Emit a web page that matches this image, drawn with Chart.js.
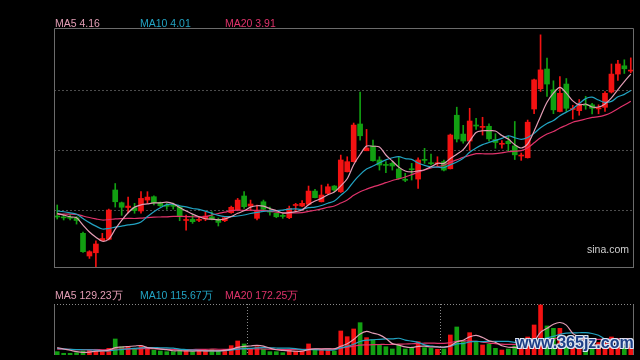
<!DOCTYPE html>
<html>
<head>
<meta charset="utf-8">
<script src="https://cdn.jsdelivr.net/npm/chart.js@4.4.1/dist/chart.umd.min.js"></script>
<style>
    body { margin: 0; background: #000; width: 640px; height: 360px; overflow: hidden; position: relative; font-family: "Liberation Sans", Arial, sans-serif; }
    canvas { position: absolute; left: 0; top: 0; }
    .legend { position: absolute; font-size: 10.5px; line-height: 12px; white-space: nowrap; }
    .sina { position: absolute; left: 587px; top: 243px; font-size: 10.5px; color: #cfcfcf; }
    .mark { position: absolute; left: 516px; top: 334px; font: bold 16px "Liberation Sans", Arial, sans-serif; color: #1d3f86; white-space: nowrap;
            text-shadow: -1px -1px 0 #dde6f2, 1px -1px 0 #dde6f2, -1px 1px 0 #dde6f2, 1px 1px 0 #dde6f2, 0 1px 0 #dde6f2, 1px 0 0 #dde6f2; }
</style>
</head>
<body>
<canvas id="price-chart" width="640" height="360"></canvas>
<canvas id="volume-chart" width="640" height="360"></canvas>

<div class="legend" style="left:55px;top:17px;color:#e39db5">MA5 4.16</div>
<div class="legend" style="left:140px;top:17px;color:#22a3c2">MA10 4.01</div>
<div class="legend" style="left:225px;top:17px;color:#e0336b">MA20 3.91</div>
<div class="legend" style="left:55px;top:289px;color:#e39db5">MA5 129.23万</div>
<div class="legend" style="left:140px;top:289px;color:#22a3c2">MA10 115.67万</div>
<div class="legend" style="left:225px;top:289px;color:#e0336b">MA20 172.25万</div>
<div class="sina">sina.com</div>
<div class="mark">www.365jz.com</div>

<script>
// daily candles, oldest first
const opens = [2.946, 2.939, 2.937, 2.936, 2.806, 2.617, 2.644, 2.746, 2.756, 3.167,
    3.061, 3.021, 3.019, 2.992, 3.083, 3.111, 3.061, 3.035, 3.035, 3.028,
    2.913, 2.922, 2.914, 2.925, 2.944, 2.922, 2.911, 2.978, 3.000, 3.117,
    3.033, 2.931, 3.069, 2.989, 2.973, 2.953, 2.936, 3.038, 3.033, 3.048,
    3.158, 3.069, 3.139, 3.200, 3.152, 3.319, 3.403, 3.717, 3.494, 3.533,
    3.417, 3.378, 3.389, 3.342, 3.253, 3.342, 3.258, 3.419, 3.392, 3.386,
    3.403, 3.344, 3.790, 3.633, 3.575, 3.704, 3.689, 3.698, 3.588, 3.548,
    3.573, 3.535, 3.450, 3.436, 3.842, 4.010, 4.175, 4.002, 3.821, 4.050,
    3.838, 3.828, 3.875, 3.877, 3.843, 3.856, 3.983, 4.133, 4.202, 4.158];
const highs = [3.042, 2.958, 2.958, 2.946, 2.817, 2.661, 2.744, 2.806, 3.008, 3.221,
    3.067, 3.108, 3.056, 3.153, 3.153, 3.119, 3.067, 3.056, 3.058, 3.033,
    2.958, 2.958, 2.944, 2.986, 2.986, 2.933, 2.944, 3.033, 3.097, 3.153,
    3.083, 3.042, 3.083, 3.025, 2.975, 2.967, 3.033, 3.056, 3.078, 3.200,
    3.172, 3.208, 3.217, 3.204, 3.458, 3.444, 3.725, 3.983, 3.672, 3.583,
    3.444, 3.403, 3.403, 3.439, 3.306, 3.389, 3.436, 3.514, 3.467, 3.444,
    3.417, 3.633, 3.857, 3.706, 3.848, 3.765, 3.773, 3.719, 3.636, 3.578,
    3.614, 3.738, 3.475, 3.750, 4.092, 4.460, 4.267, 4.077, 4.113, 4.096,
    3.873, 3.921, 3.948, 3.890, 3.877, 3.988, 4.217, 4.248, 4.252, 4.268];
const lows = [2.925, 2.917, 2.917, 2.883, 2.646, 2.597, 2.522, 2.744, 2.750, 3.025,
    2.956, 2.975, 2.973, 2.973, 3.056, 3.042, 3.029, 3.006, 3.008, 2.911,
    2.833, 2.889, 2.903, 2.911, 2.917, 2.867, 2.903, 2.973, 2.994, 3.014,
    2.996, 2.917, 3.000, 2.958, 2.936, 2.931, 2.928, 2.994, 3.029, 3.042,
    3.100, 3.067, 3.133, 3.152, 3.146, 3.317, 3.400, 3.583, 3.494, 3.408,
    3.333, 3.311, 3.333, 3.258, 3.236, 3.250, 3.181, 3.389, 3.375, 3.361,
    3.325, 3.342, 3.567, 3.557, 3.498, 3.672, 3.625, 3.573, 3.515, 3.515,
    3.489, 3.421, 3.414, 3.433, 3.804, 3.988, 3.946, 3.803, 3.817, 3.821,
    3.758, 3.790, 3.840, 3.802, 3.802, 3.821, 3.975, 4.081, 4.138, 4.144];
const closes = [2.942, 2.935, 2.932, 2.913, 2.653, 2.653, 2.717, 2.763, 3.000, 3.069,
    3.023, 3.033, 2.996, 3.097, 3.108, 3.061, 3.036, 3.031, 3.031, 2.944,
    2.921, 2.903, 2.919, 2.950, 2.925, 2.897, 2.936, 3.023, 3.083, 3.028,
    3.050, 2.994, 3.006, 2.983, 2.944, 2.947, 3.014, 3.043, 3.056, 3.158,
    3.103, 3.125, 3.194, 3.167, 3.417, 3.403, 3.708, 3.619, 3.517, 3.411,
    3.375, 3.372, 3.367, 3.264, 3.248, 3.336, 3.417, 3.414, 3.386, 3.392,
    3.333, 3.625, 3.592, 3.575, 3.742, 3.700, 3.694, 3.593, 3.563, 3.553,
    3.553, 3.460, 3.456, 3.732, 4.085, 4.168, 4.050, 3.835, 3.973, 3.848,
    3.842, 3.883, 3.871, 3.848, 3.848, 3.973, 4.133, 4.217, 4.177, 4.164];
// volume in 万 (10k shares)
const volumes = [35, 18, 18, 24, 42, 52, 60, 35, 70, 168,
    87, 87, 60, 95, 60, 52, 42, 35, 35, 60,
    42, 35, 42, 42, 60, 42, 52, 98, 147, 116,
    60, 87, 60, 35, 35, 24, 60, 42, 42, 116,
    60, 52, 52, 42, 252, 192, 273, 339, 182, 158,
    105, 87, 63, 105, 63, 77, 140, 77, 70, 60,
    63, 210, 294, 147, 234, 140, 105, 116, 70, 52,
    63, 95, 63, 189, 315, 525, 305, 280, 280, 175,
    95, 105, 84, 95, 131, 126, 189, 137, 95, 100];

// sessions before the visible window (only feed the moving averages)
const earlierCloses = [2.90, 2.92, 2.95, 2.93, 2.91, 2.94, 2.96, 2.93, 2.95, 2.97,
    3.00, 3.02, 3.03, 3.01, 2.995, 3.01, 3.00, 2.96, 2.953];
const earlierVolumes = [50, 62, 48, 70, 55, 45, 60, 58, 52, 60,
    55, 65, 50, 60, 60, 95, 80, 100, 80];

const priceGrid = [3.0, 3.5, 4.0];
const priceMin = 2.517, priceMax = 4.517;
const volumeMax = 535;
const volumeDividers = [30, 60];

const UP = '#f31212', DOWN = '#12a012';
const MA_COLORS = { ma5: '#e39db5', ma10: '#22a3c2', ma20: '#e0336b' };
const FRAME = '#6b6b6b';

const days = closes.map((_, i) => 'd' + (i + 1));
const candleColors = closes.map((c, i) => c >= opens[i] ? UP : DOWN);

function movingAverage(values, earlier, n) {
    const all = earlier.concat(values);
    return values.map((_, i) => {
        const end = earlier.length + i + 1;
        return all.slice(end - n, end).reduce((a, b) => a + b, 0) / n;
    });
}

const framePlugin = {
    id: 'frame',
    afterDraw(chart, args, opts) {
        const { ctx, chartArea: a } = chart;
        const l = Math.round(a.left) + 0.5, r = Math.round(a.right) - 0.5;
        const t = Math.round(a.top) + 0.5, b = Math.round(a.bottom) - 0.5;
        ctx.save();
        ctx.strokeStyle = opts.color;
        ctx.lineWidth = 1;
        ctx.beginPath();
        if (opts.sides.includes('t')) { ctx.moveTo(l, t); ctx.lineTo(r, t); }
        if (opts.sides.includes('b')) { ctx.moveTo(l, b); ctx.lineTo(r, b); }
        if (opts.sides.includes('l')) { ctx.moveTo(l, t); ctx.lineTo(l, b + 0.5); }
        if (opts.sides.includes('r')) { ctx.moveTo(r, t); ctx.lineTo(r, b + 0.5); }
        ctx.stroke();
        ctx.restore();
    }
};

function maLine(data, color) {
    return { type: 'line', data, borderColor: color, borderWidth: 1.2, pointRadius: 0, tension: 0.3, order: 0 };
}

const hiddenX = {
    offset: true,
    grid: { display: false, drawTicks: false },
    border: { display: false },
    ticks: { display: false }
};

new Chart(document.getElementById('price-chart'), {
    type: 'bar',
    data: {
        labels: days,
        datasets: [
            maLine(movingAverage(closes, earlierCloses, 5), MA_COLORS.ma5),
            maLine(movingAverage(closes, earlierCloses, 10), MA_COLORS.ma10),
            maLine(movingAverage(closes, earlierCloses, 20), MA_COLORS.ma20),
            {
                data: closes.map((c, i) => [opens[i], c]),
                backgroundColor: candleColors,
                barThickness: 5, minBarLength: 1, grouped: false, order: 1
            },
            {
                data: closes.map((c, i) => [lows[i], highs[i]]),
                backgroundColor: candleColors,
                barThickness: 1, grouped: false, order: 2
            }
        ]
    },
    options: {
        responsive: false,
        animation: false,
        devicePixelRatio: 1,
        layout: { padding: { left: 54, top: 28, right: 6, bottom: 92 } },
        plugins: {
            legend: { display: false },
            tooltip: { enabled: false },
            frame: { color: FRAME, sides: 'tblr' }
        },
        scales: {
            x: hiddenX,
            y: {
                min: priceMin, max: priceMax,
                afterBuildTicks: s => { s.ticks = priceGrid.map(v => ({ value: v })); },
                grid: { color: '#4d4d4d', drawTicks: false },
                border: { display: false, dash: [2, 2] },
                ticks: { display: false }
            }
        }
    },
    plugins: [framePlugin]
});

new Chart(document.getElementById('volume-chart'), {
    type: 'bar',
    data: {
        labels: days,
        datasets: [
            maLine(movingAverage(volumes, earlierVolumes, 5), MA_COLORS.ma5),
            maLine(movingAverage(volumes, earlierVolumes, 10), MA_COLORS.ma10),
            maLine(movingAverage(volumes, earlierVolumes, 20), MA_COLORS.ma20),
            { data: volumes, backgroundColor: candleColors, barThickness: 4, minBarLength: 1, order: 1 }
        ]
    },
    options: {
        responsive: false,
        animation: false,
        devicePixelRatio: 1,
        layout: { padding: { left: 54, top: 304, right: 6, bottom: 5 } },
        plugins: {
            legend: { display: false },
            tooltip: { enabled: false },
            frame: { color: FRAME, sides: 'lr' }
        },
        scales: {
            x: {
                offset: true,
                grid: {
                    offset: true, drawTicks: false,
                    color: ctx => volumeDividers.includes(ctx.index) ? '#8a8a8a' : 'transparent'
                },
                border: { display: false, dash: [1, 2] },
                ticks: { display: false, autoSkip: false }
            },
            y: {
                min: 0, max: volumeMax,
                afterBuildTicks: s => { s.ticks = [{ value: volumeMax }]; },
                grid: { color: '#8a8a8a', drawTicks: false },
                border: { display: false, dash: [1, 2] },
                ticks: { display: false }
            }
        }
    },
    plugins: [framePlugin]
});
</script>
</body>
</html>
